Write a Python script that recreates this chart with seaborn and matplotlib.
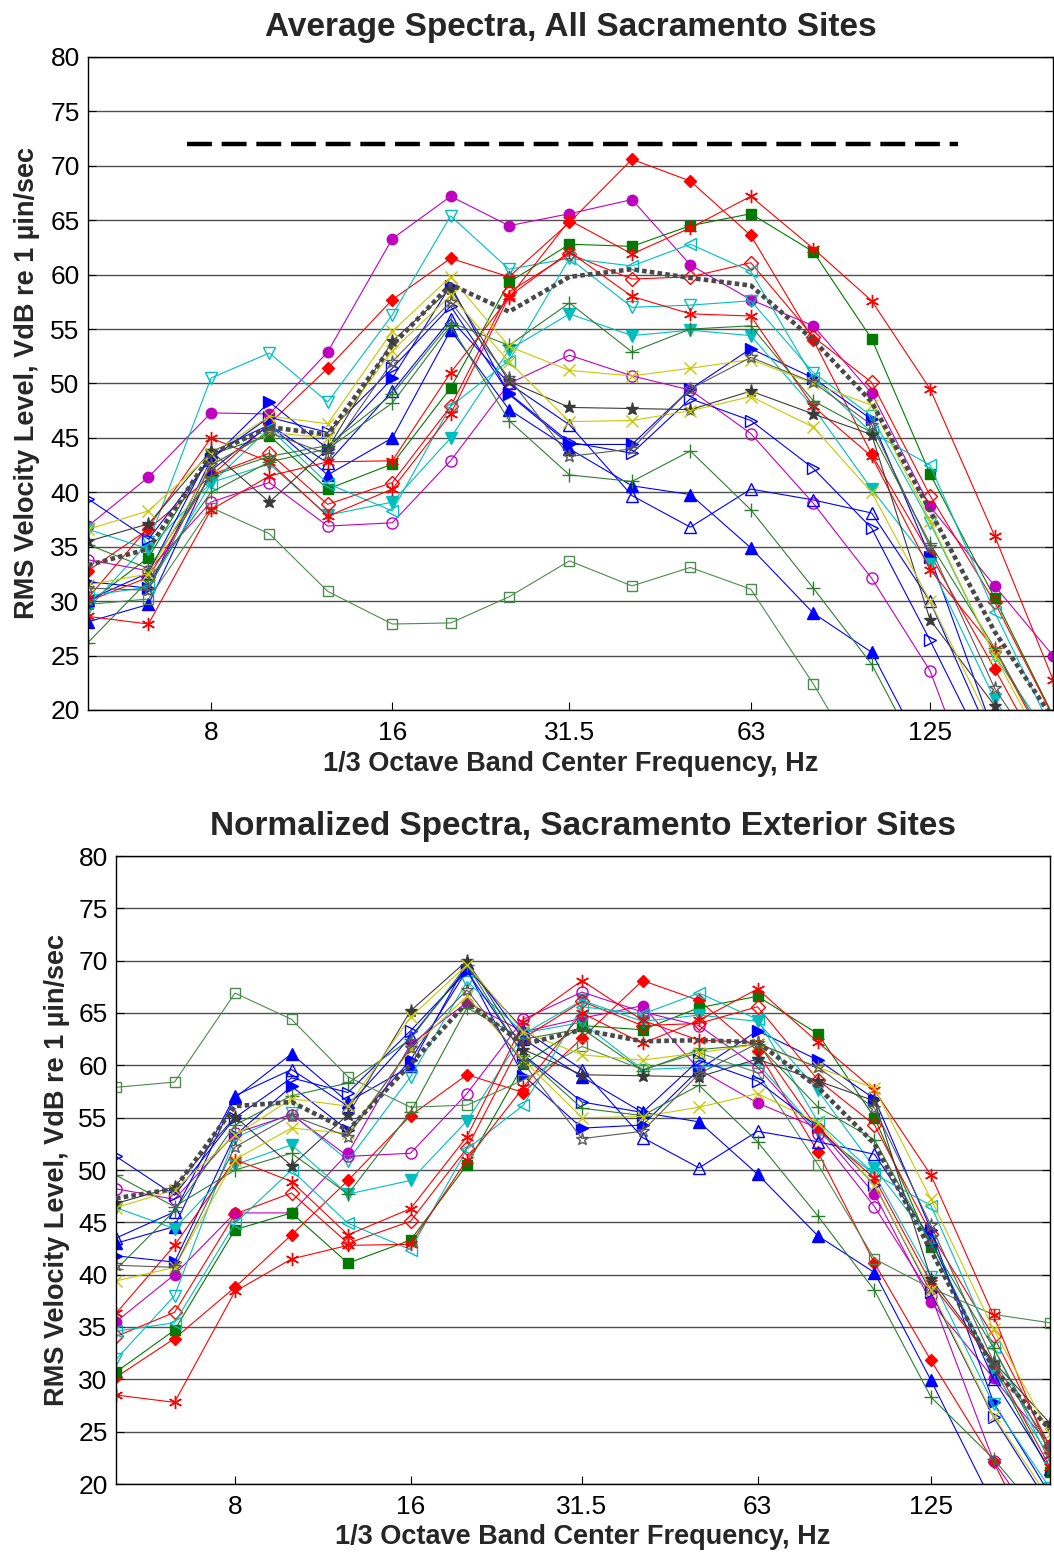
import numpy as np
import pandas as pd
import matplotlib
matplotlib.use("Agg")
import matplotlib.pyplot as plt
import seaborn as sns
from matplotlib.ticker import FixedLocator, NullLocator

# ---------------- data ----------------
freqs = [5, 6.3, 8, 10, 12.5, 16, 20, 25, 31.5, 40, 50, 63, 80, 100, 125, 160, 200]
tick_freqs = [8, 16, 31.5, 63, 125]
tick_labels = ["8", "16", "31.5", "63", "125"]
y_ticks = [20, 25, 30, 35, 40, 45, 50, 55, 60, 65, 70, 75, 80]

criterion_freq = [7.3, 139]
criterion_level = [72, 72]

# Top chart: average spectra, all sites
A_top = [36.9, 41.4, 47.3, 47.2, 52.9, 63.3, 67.2, 64.5, 65.6, 66.9, 60.9, 57.7, 55.3, 49.1, 38.7, 31.4, 25.0]
B_top = [32.8, 36.6, 41.5, 46.3, 51.4, 57.7, 61.5, 59.8, 64.8, 70.6, 68.6, 63.6, 54.0, 43.5, 34.3, 23.8, 14.0]
C_top = [29.8, 34.0, 43.5, 45.2, 40.3, 42.6, 49.6, 59.3, 62.8, 62.6, 64.5, 65.6, 62.1, 54.1, 41.7, 30.3, 19.5]
D_top = [28.1, 29.7, 42.0, 46.2, 41.6, 45.0, 54.9, 47.6, 44.0, 40.6, 39.8, 34.9, 28.9, 25.3, 15.0, 8.0, 4.0]
E_top = [31.8, 31.2, 43.0, 48.3, 44.0, 50.5, 59.0, 49.0, 44.4, 44.4, 49.5, 53.2, 50.5, 46.7, 34.1, 17.7, 10.0]
F_top = [36.6, 34.8, 40.9, 42.6, 37.9, 39.1, 45.0, 53.1, 56.4, 54.4, 54.9, 54.4, 47.8, 40.3, 33.4, 21.0, 12.8]
G_top = [29.3, 35.4, 50.5, 52.8, 48.3, 56.3, 65.4, 60.5, 61.5, 57.0, 57.2, 57.6, 51.0, 47.0, 37.2, 25.0, 17.0]
H_top = [33.8, 32.8, 39.1, 40.9, 36.9, 37.2, 42.9, 50.0, 52.6, 50.7, 49.4, 45.4, 39.0, 32.1, 23.6, 7.8, 0.0]
I_top = [30.0, 32.2, 41.6, 43.6, 38.9, 40.9, 47.9, 58.4, 61.9, 59.6, 59.8, 61.1, 54.3, 50.1, 39.7, 29.9, 19.4]
J_top = [29.7, 30.2, 38.6, 36.2, 30.9, 27.9, 28.0, 30.4, 33.7, 31.4, 33.1, 31.1, 22.4, 13.3, 10.5, 8.0, 7.2]
K_top = [30.1, 32.6, 43.7, 46.2, 42.7, 49.3, 55.9, 50.0, 46.2, 39.7, 36.8, 40.3, 39.3, 38.1, 30.0, 16.6, 8.0]
L_top = [39.4, 35.7, 43.1, 46.9, 45.5, 51.4, 57.1, 49.1, 44.6, 43.6, 48.6, 46.6, 42.2, 36.7, 26.4, 14.5, 6.0]
M_top = [30.5, 31.3, 40.8, 45.9, 40.8, 38.3, 47.9, 52.1, 61.5, 60.8, 62.8, 60.3, 50.5, 45.5, 42.5, 29.0, 18.0]
N2_top = [28.6, 27.9, 38.4, 41.5, 42.8, 42.9, 51.0, 57.9, 65.0, 61.9, 64.3, 67.2, 62.4, 57.6, 49.5, 36.0, 22.8]
N3_top = [30.3, 36.8, 45.0, 42.8, 37.8, 40.3, 47.2, 58.0, 62.1, 58.0, 56.4, 56.2, 47.9, 43.3, 32.9, 25.6, 15.6]
O1_top = [26.2, 31.9, 40.0, 42.8, 44.0, 48.2, 55.3, 46.6, 41.6, 41.0, 43.8, 38.4, 31.2, 24.2, 14.0, 8.1, 2.0]
O2_top = [35.2, 33.0, 41.5, 43.3, 44.3, 49.0, 55.6, 53.5, 57.4, 52.9, 55.0, 55.3, 48.4, 45.5, 35.3, 25.7, 16.0]
P_top = [35.5, 37.1, 43.8, 39.1, 44.0, 53.9, 58.7, 50.2, 47.8, 47.7, 47.6, 49.3, 47.2, 45.3, 28.3, 20.4, 14.5]
Q1_top = [36.6, 38.3, 43.5, 47.0, 46.3, 54.8, 59.8, 53.4, 51.2, 50.7, 51.4, 52.2, 50.0, 48.0, 37.4, 25.0, 15.0]
Q2_top = [31.5, 32.5, 42.5, 45.5, 45.0, 53.0, 58.1, 52.0, 46.5, 46.6, 47.5, 48.8, 46.0, 40.0, 30.0, 18.0, 10.0]
R_top = [31.2, 31.0, 42.5, 45.5, 43.5, 52.0, 57.5, 50.5, 43.3, 44.0, 49.5, 52.4, 50.1, 46.2, 35.0, 22.0, 14.0]
avg_top = [33.3, 34.8, 43.5, 46.0, 45.3, 53.5, 59.1, 56.6, 59.8, 60.5, 59.7, 59.0, 54.0, 48.3, 38.3, 27.2, 19.2]

# Bottom chart: normalized spectra, exterior sites
A_bot = [35.5, 40.0, 45.9, 45.9, 51.6, 62.0, 66.0, 63.2, 64.5, 65.7, 59.6, 56.4, 54.0, 47.7, 37.4, 30.1, 23.7]
B_bot = [30.2, 33.9, 38.8, 43.8, 49.0, 55.2, 59.1, 57.4, 62.6, 68.1, 66.2, 61.4, 51.7, 41.1, 31.8, 22.1, 11.5]
C_bot = [30.7, 34.7, 44.3, 45.9, 41.1, 43.3, 50.5, 60.1, 63.8, 63.4, 65.5, 66.6, 63.0, 55.0, 42.6, 31.2, 21.1]
D_bot = [43.0, 44.6, 56.9, 61.1, 56.5, 59.9, 69.8, 62.5, 58.9, 55.5, 54.6, 49.6, 43.7, 40.2, 29.9, 18.0, 12.0]
E_bot = [41.8, 41.2, 53.3, 58.0, 53.8, 60.5, 69.1, 59.0, 54.0, 54.3, 59.6, 63.3, 60.5, 56.8, 44.3, 27.8, 19.0]
F_bot = [46.4, 44.4, 50.5, 52.4, 47.7, 49.0, 54.7, 63.0, 66.2, 64.2, 64.8, 64.2, 57.6, 50.2, 43.2, 30.8, 22.6]
G_bot = [31.9, 38.0, 53.1, 55.4, 50.9, 58.9, 68.0, 63.1, 64.1, 59.6, 59.8, 60.2, 53.6, 49.6, 39.8, 27.6, 19.6]
H_bot = [48.2, 47.2, 53.5, 55.3, 51.3, 51.6, 57.3, 64.4, 67.0, 65.1, 63.8, 59.8, 53.4, 46.5, 38.0, 22.2, 14.4]
I_bot = [34.1, 36.4, 45.8, 47.8, 43.0, 45.1, 52.1, 62.6, 66.1, 63.8, 64.0, 65.6, 58.6, 54.3, 43.9, 34.1, 23.6]
J_bot = [57.9, 58.4, 66.9, 64.4, 58.9, 56.0, 56.2, 58.6, 61.8, 59.6, 61.2, 59.3, 50.5, 41.5, 38.7, 36.2, 35.4]
K_bot = [43.5, 46.0, 57.1, 59.6, 56.1, 62.7, 69.3, 63.4, 59.6, 53.1, 50.2, 53.7, 52.7, 51.5, 43.4, 30.0, 21.4]
L_bot = [51.3, 47.6, 55.0, 58.8, 57.4, 63.3, 69.0, 61.0, 56.5, 55.5, 60.5, 58.5, 54.1, 48.6, 38.3, 26.4, 17.9]
M_bot = [34.6, 35.4, 44.9, 50.0, 44.9, 42.4, 52.0, 56.2, 65.6, 64.9, 66.9, 64.4, 54.6, 49.6, 46.6, 33.1, 22.1]
N2_bot = [28.5, 27.8, 38.4, 41.5, 42.8, 42.9, 51.0, 57.9, 65.0, 62.1, 64.3, 67.3, 62.2, 57.6, 49.5, 36.1, 22.8]
N3_bot = [36.3, 42.8, 51.0, 48.9, 43.8, 46.3, 53.2, 64.1, 68.1, 64.3, 62.4, 62.2, 53.9, 49.2, 39.2, 31.6, 21.6]
O1_bot = [40.5, 46.1, 54.3, 57.1, 58.3, 62.5, 69.6, 60.9, 55.9, 55.2, 58.1, 52.7, 45.6, 38.5, 28.3, 22.4, 16.0]
O2_bot = [49.5, 46.5, 50.0, 51.6, 47.7, 55.5, 65.5, 62.5, 63.5, 59.5, 61.5, 62.0, 56.0, 52.9, 43.0, 33.0, 23.0]
P_bot = [46.8, 48.4, 55.1, 50.4, 55.3, 65.2, 70.0, 61.5, 59.1, 59.0, 58.9, 60.6, 58.5, 56.6, 39.6, 31.7, 25.8]
Q1_bot = [46.4, 48.1, 53.3, 56.8, 56.1, 64.6, 69.6, 63.2, 61.0, 60.5, 61.2, 62.0, 59.8, 57.8, 47.2, 34.8, 24.8]
Q2_bot = [39.4, 40.7, 51.0, 54.0, 53.5, 61.5, 66.6, 60.5, 55.0, 55.1, 56.0, 57.3, 54.5, 48.5, 38.5, 26.5, 18.5]
R_bot = [40.9, 40.7, 52.2, 55.2, 53.2, 61.7, 67.2, 60.2, 53.0, 53.7, 59.2, 62.1, 59.8, 55.9, 44.7, 31.7, 23.7]
avg_bot = [47.3, 48.2, 56.1, 56.5, 53.8, 60.1, 66.0, 62.0, 63.4, 62.3, 62.4, 62.2, 57.9, 52.5, 42.3, 31.0, 25.2]

top_series = {"A": A_top, "B": B_top, "C": C_top, "D": D_top, "E": E_top, "F": F_top,
              "G": G_top, "H": H_top, "I": I_top, "J": J_top, "K": K_top, "L": L_top,
              "M": M_top, "N2": N2_top, "N3": N3_top, "O1": O1_top, "O2": O2_top,
              "P": P_top, "Q1": Q1_top, "Q2": Q2_top, "R": R_top}
bot_series = {"A": A_bot, "B": B_bot, "C": C_bot, "D": D_bot, "E": E_bot, "F": F_bot,
              "G": G_bot, "H": H_bot, "I": I_bot, "J": J_bot, "K": K_bot, "L": L_bot,
              "M": M_bot, "N2": N2_bot, "N3": N3_bot, "O1": O1_bot, "O2": O2_bot,
              "P": P_bot, "Q1": Q1_bot, "Q2": Q2_bot, "R": R_bot}

# ---------------- styles ----------------
MAG = "#C000C0"; RED = "#FF0000"; GRN = "#007A00"; BLU = "#0000FF"; CYA = "#00BEBE"
PLG = "#2E7D2E"; JGR = "#4E8A4E"; YEL = "#C8C800"; DRK = "#3A3A3A"; GRY = "#5A5A5A"
AST = (6, 2, 0)
styles = {
    "A": (MAG, "o", True, 7.5), "B": (RED, "D", True, 6.5), "C": (GRN, "s", True, 6.8),
    "D": (BLU, "^", True, 8.0), "E": (BLU, ">", True, 8.0), "F": (CYA, "v", True, 8.0),
    "G": (CYA, "v", False, 8.5), "H": (MAG, "o", False, 8.0), "I": (RED, "D", False, 7.0),
    "J": (JGR, "s", False, 7.3), "K": (BLU, "^", False, 8.5), "L": (BLU, ">", False, 8.5),
    "M": (CYA, "<", False, 8.5), "N2": (RED, AST, False, 9.5), "N3": (RED, AST, False, 9.5),
    "O1": (PLG, "+", False, 10.0), "O2": (PLG, "+", False, 10.0), "P": (DRK, "*", True, 9.5),
    "Q1": (YEL, "x", False, 8.0), "Q2": (YEL, "x", False, 8.0), "R": (GRY, "*", False, 9.5),
}

sns.set_theme(style="white")
plt.rcParams["font.family"] = ["Liberation Sans", "DejaVu Sans"]

fig = plt.figure(figsize=(10.54, 15.52), dpi=100)
ax_top = fig.add_axes([88 / 1054, 1 - 710 / 1552, (1053 - 88) / 1054, 653 / 1552])
ax_bot = fig.add_axes([116 / 1054, 1 - 1484 / 1552, (1050 - 116) / 1054, 628 / 1552])


def draw(ax, series, avg, title, ylab_x):
    for key, vals in series.items():
        color, marker, filled, ms = styles[key]
        mfc = color if filled else "none"
        sns.lineplot(x=freqs, y=vals, ax=ax, color=color, marker=marker, markersize=ms,
                     markerfacecolor=mfc, markeredgecolor=color, markeredgewidth=1.0,
                     linewidth=0.8, estimator=None, sort=False, legend=False)
    sns.lineplot(x=freqs, y=avg, ax=ax, color="#4A4A4A", linewidth=3.3,
                 linestyle=(0, (1.0, 0.7)), estimator=None, sort=False, legend=False,
                 zorder=5)
    ax.set_xscale("log", base=2)
    ax.set_xlim(5, 200)
    ax.set_ylim(20, 80)
    ax.xaxis.set_major_locator(FixedLocator(tick_freqs))
    ax.xaxis.set_minor_locator(NullLocator())
    ax.set_xticklabels(tick_labels)
    ax.yaxis.set_major_locator(FixedLocator(y_ticks))
    ax.set_yticklabels([str(v) for v in y_ticks])
    ax.yaxis.grid(True, color="#505050", linewidth=1.0)
    ax.xaxis.grid(False)
    ax.set_axisbelow(True)
    for sp in ax.spines.values():
        sp.set_color("black")
        sp.set_linewidth(1.0)
        sp.set_visible(True)
    ax.tick_params(axis="both", which="major", direction="in", length=6, width=0.8,
                   labelsize=19, colors="black", right=True, left=True, bottom=True)
    ax.tick_params(axis="x", pad=8)
    ax.tick_params(axis="y", pad=6)
    ax.set_title(title, fontsize=24, fontweight="bold", pad=15)
    ax.set_xlabel("1/3 Octave Band Center Frequency, Hz", fontsize=19.5, fontweight="bold")
    ax.set_ylabel("RMS Velocity Level, VdB re 1 µin/sec", fontsize=19.5, fontweight="bold")
    ax.xaxis.set_label_coords(0.5, -0.063)
    ax.yaxis.set_label_coords(ylab_x, 0.5)


draw(ax_top, top_series, avg_top, "Average Spectra, All Sacramento Sites", -0.050)
sns.lineplot(x=criterion_freq, y=criterion_level, ax=ax_top, color="black", linewidth=3.2,
             linestyle=(0, (5.6, 2.2)), estimator=None, sort=False, legend=False, zorder=6)
draw(ax_bot, bot_series, avg_bot, "Normalized Spectra, Sacramento Exterior Sites", -0.049)

fig.savefig("out.png", dpi=100)
